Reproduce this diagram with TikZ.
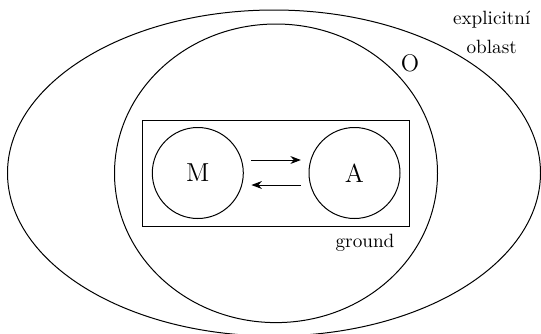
\documentclass[tikz,border=0pt]{standalone}
\usetikzlibrary{arrows.meta,positioning}
\begin{document}
\begin{tikzpicture}[x=0.5pt,y=-0.5pt,>=Stealth,line width=0.5pt]
  \tikzset{kruh/.style={draw,circle,minimum size=45.5pt,inner sep=0pt,font=\fontsize{13}{15}\selectfont},
    popis/.style={font=\fontsize{9.6}{11}\selectfont}}
  \useasboundingbox (0,0) rectangle (541,333);
  \draw (274,173) ellipse (266.5 and 163);
  \draw (276,173.3) ellipse (161.5 and 149.3);
  \node[draw,minimum width=133.3pt,minimum height=53.3pt] (ground) at (276,173.3) {};
  \node[kruh] (M) at (197.8,173) {M};
  \node[kruh] (A) at (354.5,173) {A};
  \draw[->,shorten <=3.8pt,shorten >=3.8pt] ([yshift=6.5pt]M.east) -- ([yshift=6.5pt]A.west);
  \draw[->,shorten <=3.8pt,shorten >=3.8pt] ([yshift=-6pt]A.west) -- ([yshift=-6pt]M.east);
  \node[popis] (groundpopis) at (365,243) {ground};
  \node[font=\fontsize{12}{14}\selectfont] (O) at (410,63) {O};
  \node[popis] (explicitni) at (491.7,20) {explicitní};
  \node[popis] (oblast) at (491.7,46.7) {oblast};
\end{tikzpicture}
\end{document}
